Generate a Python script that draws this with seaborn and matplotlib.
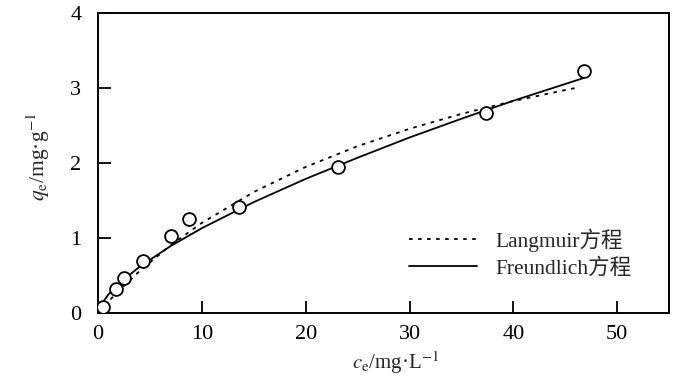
import matplotlib
matplotlib.use("Agg")
import matplotlib.pyplot as plt
import seaborn as sns
import pandas as pd

# measured points
ce_obs = [0.5, 1.75, 2.5, 4.3, 7.0, 8.8, 13.6, 23.1, 37.4, 46.8]
qe_obs = [0.08, 0.32, 0.47, 0.69, 1.03, 1.25, 1.41, 1.95, 2.67, 3.23]

# Langmuir fitted curve
ce_lang = [1.2, 2, 4, 7, 10, 15, 20, 25, 30, 35, 40, 46.3]
qe_lang = [0.18, 0.295, 0.558, 0.904, 1.20, 1.613, 1.947, 2.224, 2.456, 2.655, 2.826, 3.01]

# Freundlich fitted curve
ce_freu = [0.3, 1, 2, 4, 7, 10, 15, 20, 25, 30, 35, 40, 46.7]
qe_freu = [0.11, 0.246, 0.389, 0.616, 0.892, 1.13, 1.478, 1.788, 2.07, 2.34, 2.59, 2.83, 3.13]

xticks = [0, 10, 20, 30, 40, 50]
yticks = [0, 1, 2, 3, 4]

sns.set_theme(style="ticks")
plt.rcParams['font.family'] = ['Liberation Serif', 'Noto Sans CJK SC']
plt.rcParams['mathtext.fontset'] = 'stix'

fig = plt.figure(figsize=(7, 3.77), dpi=100)
ax = fig.add_axes([0.14, 0.170, 0.816, 0.7955])

df_l = pd.DataFrame({"ce": ce_lang, "qe": qe_lang})
df_f = pd.DataFrame({"ce": ce_freu, "qe": qe_freu})
df_o = pd.DataFrame({"ce": ce_obs, "qe": qe_obs})

sns.lineplot(data=df_l, x="ce", y="qe", ax=ax, color="black", lw=1.3,
             linestyle=(0, (2, 3)), label="Langmuir方程", sort=True)
sns.lineplot(data=df_f, x="ce", y="qe", ax=ax, color="black", lw=1.3,
             linestyle="-", label="Freundlich方程", sort=True)
sns.scatterplot(data=df_o, x="ce", y="qe", ax=ax, s=85, facecolor="white",
                edgecolor="black", linewidth=1.3, zorder=5, legend=False)

ax.set_xlim(0, 55)
ax.set_ylim(0, 4)
ax.set_xticks(xticks)
ax.set_yticks(yticks)
ax.tick_params(direction="in", length=9, width=1.3, labelsize=16,
               colors="black")
ax.tick_params(axis="x", pad=9)
ax.tick_params(axis="y", pad=12)
for sp in ax.spines.values():
    sp.set_visible(True)
    sp.set_linewidth(1.4)
    sp.set_color("black")

ax.set_xlabel(r"$c_\mathrm{e}$/mg·L$^{-1}$", fontsize=15)
ax.set_ylabel(r"$q_\mathrm{e}$/mg·g$^{-1}$", fontsize=15.5)
ax.xaxis.set_label_coords(0.52, -0.12)
ax.yaxis.set_label_coords(-0.08, 0.52)

leg = ax.legend(loc="center left", bbox_to_anchor=(0.545, 0.198),
                frameon=False, fontsize=15.5, handlelength=3.15,
                handletextpad=0.85, labelspacing=0.3, borderpad=0,
                borderaxespad=0)

fig.savefig("out.png", dpi=100)
